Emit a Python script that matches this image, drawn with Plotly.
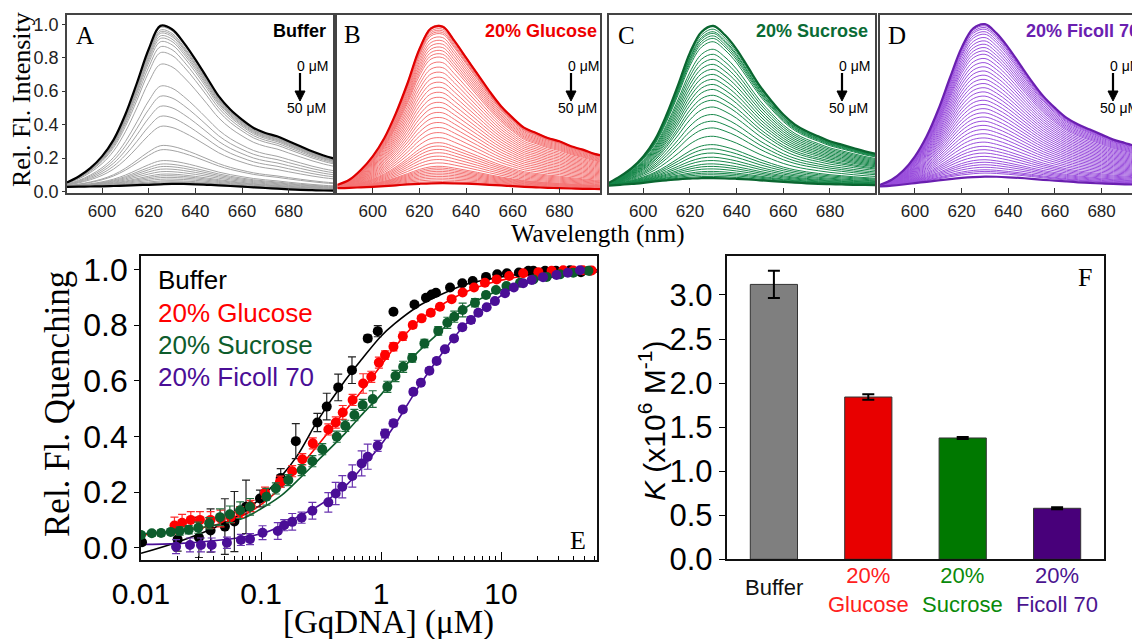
import plotly.graph_objects as go

W, H = 1140, 639
OFF = 8  # page offset of the figure in the browser
SERIF = "Liberation Serif"
SANS = "Liberation Sans"

# ---------------- Panels A-D : emission spectra ----------------
wavelength = [585, 590, 595, 600, 605, 610, 615, 620, 625, 630, 635, 640,
              645, 650, 655, 660, 665, 670, 675, 680, 685, 690, 695, 700]

buffer_top = [0.054, 0.09, 0.14, 0.21, 0.31, 0.46, 0.65, 0.85, 0.99, 0.97, 0.89, 0.79,
              0.68, 0.57, 0.49, 0.43, 0.38, 0.35, 0.33, 0.30, 0.27, 0.24, 0.215, 0.195]
buffer_bottom = [0.028, 0.029, 0.030, 0.031, 0.033, 0.035, 0.038, 0.040, 0.043, 0.045, 0.045, 0.043,
                 0.040, 0.037, 0.033, 0.029, 0.025, 0.021, 0.017, 0.013, 0.010, 0.008, 0.006, 0.005]
buffer_peaks = [0.98, 0.965, 0.955, 0.945, 0.93, 0.915, 0.895, 0.865, 0.83, 0.76, 0.63, 0.57,
                0.51, 0.45, 0.39, 0.275, 0.25, 0.185, 0.165, 0.15, 0.135, 0.12, 0.105, 0.095,
                0.085, 0.075, 0.065, 0.058, 0.052]

glucose_top = [0.04, 0.07, 0.13, 0.21, 0.32, 0.47, 0.65, 0.85, 0.975, 0.985, 0.90, 0.80,
               0.70, 0.60, 0.51, 0.44, 0.38, 0.35, 0.32, 0.30, 0.27, 0.25, 0.225, 0.21]
glucose_bottom = [0.02, 0.022, 0.025, 0.028, 0.032, 0.037, 0.042, 0.046, 0.049, 0.05, 0.049, 0.047,
                  0.044, 0.04, 0.036, 0.032, 0.028, 0.025, 0.022, 0.02, 0.018, 0.016, 0.015, 0.014]
glucose_peaks = [0.99, 0.98, 0.97, 0.96, 0.95, 0.94, 0.92, 0.90, 0.88, 0.86, 0.84, 0.82, 0.80,
                 0.77, 0.74, 0.71, 0.68, 0.65, 0.62, 0.59, 0.56, 0.53, 0.50, 0.47, 0.44, 0.41,
                 0.38, 0.35, 0.32, 0.29, 0.27, 0.25, 0.23, 0.21, 0.19, 0.17, 0.15, 0.14, 0.13,
                 0.12, 0.11, 0.10, 0.09, 0.08, 0.07, 0.06]

sucrose_top = [0.05, 0.09, 0.14, 0.21, 0.31, 0.46, 0.64, 0.83, 0.955, 0.99, 0.935, 0.85,
               0.74, 0.63, 0.54, 0.46, 0.40, 0.36, 0.33, 0.30, 0.28, 0.26, 0.24, 0.225]
sucrose_bottom = [0.035, 0.04, 0.045, 0.052, 0.06, 0.067, 0.073, 0.077, 0.08, 0.08, 0.079, 0.076,
                  0.072, 0.067, 0.062, 0.057, 0.053, 0.049, 0.046, 0.044, 0.042, 0.04, 0.039, 0.038]
sucrose_peaks = [0.985, 0.97, 0.955, 0.945, 0.93, 0.915, 0.895, 0.85, 0.82, 0.79, 0.76, 0.73,
                 0.70, 0.67, 0.64, 0.61, 0.575, 0.545, 0.505, 0.46, 0.42, 0.38, 0.33, 0.28,
                 0.255, 0.23, 0.205, 0.185, 0.165, 0.15, 0.135, 0.12, 0.11, 0.10, 0.09]

ficoll_top = [0.04, 0.07, 0.125, 0.21, 0.33, 0.49, 0.68, 0.86, 0.975, 1.0, 0.945, 0.86,
              0.76, 0.66, 0.57, 0.50, 0.44, 0.40, 0.37, 0.34, 0.31, 0.29, 0.27, 0.26]
ficoll_bottom = [0.03, 0.035, 0.042, 0.05, 0.058, 0.066, 0.074, 0.081, 0.086, 0.089, 0.088, 0.085,
                 0.081, 0.076, 0.07, 0.065, 0.06, 0.055, 0.051, 0.048, 0.045, 0.043, 0.041, 0.04]
ficoll_peaks = [0.99, 0.98, 0.97, 0.955, 0.94, 0.92, 0.90, 0.88, 0.86, 0.84, 0.82, 0.795, 0.77,
                0.745, 0.72, 0.695, 0.67, 0.645, 0.62, 0.595, 0.57, 0.545, 0.52, 0.495, 0.47,
                0.445, 0.42, 0.395, 0.37, 0.345, 0.32, 0.295, 0.27, 0.25, 0.23, 0.21, 0.19,
                0.175, 0.16, 0.145, 0.13, 0.12, 0.11]

# ---------------- Panel E : titration ----------------
buffer_conc = [0.0102, 0.0202, 0.0304, 0.038, 0.05, 0.06, 0.075, 0.098, 0.146, 0.195, 0.295,
               0.353, 0.44, 0.573, 0.775, 0.94, 1.27, 1.9, 2.37, 2.64, 2.87, 3.76, 4.76, 5.81,
               7.5, 9.3, 11.2, 14.1, 16.9, 18.6, 23.3, 28.7, 37.6, 46.4, 55]
buffer_q = [0.02, 0.03, 0.037, 0.062, 0.076, 0.094, 0.147, 0.177, 0.251, 0.383, 0.45, 0.507,
            0.576, 0.638, 0.752, 0.778, 0.848, 0.874, 0.898, 0.91, 0.916, 0.935, 0.95, 0.958,
            0.973, 0.982, 0.986, 0.989, 0.995, 0.995, 0.995, 0.995, 0.997, 0.99, 0.995]
buffer_err = [0, 0.042, 0.072, 0.078, 0.10, 0.108, 0.096, 0.03, 0.033, 0.063, 0.033, 0.048,
              0.048, 0.048, 0.012, 0.02, 0.006, 0.01, 0.005, 0.005, 0.005, 0.005, 0.004, 0.004,
              0.004, 0.004, 0.003, 0.003, 0.003, 0.003, 0.003, 0.003, 0.003, 0.003, 0.003]

glucose_conc = [0.019, 0.022, 0.026, 0.031, 0.038, 0.046, 0.056, 0.067, 0.082, 0.108, 0.144,
                0.182, 0.221, 0.27, 0.364, 0.42, 0.48, 0.58, 0.71, 0.83, 0.96, 1.08, 1.27,
                1.52, 1.84, 2.18, 2.6, 3.1, 3.88, 4.79, 5.96, 7.35, 9.2, 11.7, 15.3, 20.5,
                26.4, 33, 40, 48, 57]
glucose_q = [0.08, 0.09, 0.1, 0.1, 0.1, 0.105, 0.11, 0.128, 0.15, 0.198, 0.237, 0.275, 0.318,
             0.375, 0.425, 0.45, 0.486, 0.531, 0.59, 0.614, 0.665, 0.692, 0.722, 0.76, 0.8,
             0.824, 0.844, 0.866, 0.893, 0.917, 0.935, 0.952, 0.964, 0.976, 0.986, 0.99,
             0.995, 0.997, 0.996, 0.997, 0.996]
glucose_err = [0.03, 0.03, 0.03, 0.03, 0.03, 0.03, 0.02, 0.02, 0.02, 0.02, 0.02, 0.02, 0.02,
               0.02, 0.02, 0.02, 0.025, 0.02, 0.035, 0.02, 0.02, 0.015, 0.015, 0.015, 0.01,
               0.01, 0.01, 0.008, 0.008, 0.006, 0.006, 0.005, 0.005, 0.004, 0.004, 0.003,
               0.003, 0.003, 0.003, 0.003, 0.003]

sucrose_conc = [0.01, 0.0123, 0.0147, 0.0177, 0.021, 0.025, 0.03, 0.037, 0.0455, 0.055, 0.067,
                0.081, 0.111, 0.133, 0.169, 0.218, 0.268, 0.324, 0.428, 0.504, 0.6, 0.704,
                0.853, 1.13, 1.32, 1.53, 1.82, 2.3, 3.0, 3.57, 4.08, 4.79, 6.07, 7.5, 9.08,
                11.1, 14.4, 18.6, 24, 31, 40, 53.5]
sucrose_q = [0.046, 0.052, 0.053, 0.057, 0.06, 0.065, 0.072, 0.088, 0.11, 0.12, 0.135, 0.147,
             0.183, 0.213, 0.243, 0.279, 0.311, 0.354, 0.399, 0.438, 0.477, 0.513, 0.534,
             0.578, 0.617, 0.65, 0.682, 0.734, 0.779, 0.808, 0.83, 0.854, 0.88, 0.908, 0.926,
             0.94, 0.952, 0.964, 0.973, 0.982, 0.988, 0.995]
sucrose_err = [0.01, 0.01, 0.01, 0.01, 0.015, 0.015, 0.02, 0.02, 0.03, 0.03, 0.03, 0.03, 0.03,
               0.02, 0.02, 0.02, 0.02, 0.02, 0.02, 0.02, 0.02, 0.02, 0.03, 0.02, 0.02, 0.02,
               0.015, 0.015, 0.015, 0.02, 0.02, 0.025, 0.015, 0.01, 0.008, 0.006, 0.005,
               0.005, 0.004, 0.004, 0.003, 0.003]

ficoll_conc = [0.0196, 0.0256, 0.0316, 0.0388, 0.052, 0.068, 0.081, 0.103, 0.138, 0.156, 0.182,
               0.218, 0.268, 0.364, 0.419, 0.476, 0.577, 0.69, 0.775, 0.938, 1.08, 1.27, 1.52,
               1.86, 2.15, 2.53, 2.91, 3.41, 4.06, 4.76, 5.62, 6.47, 7.6, 8.9, 10.8, 12.8,
               15.3, 18, 22.4, 29, 36, 45.5]
ficoll_q = [0.004, 0.01, 0.01, 0.01, 0.018, 0.028, 0.031, 0.054, 0.06, 0.081, 0.093, 0.108,
            0.133, 0.163, 0.195, 0.219, 0.258, 0.303, 0.327, 0.366, 0.41, 0.447, 0.497, 0.56,
            0.593, 0.636, 0.671, 0.713, 0.752, 0.792, 0.818, 0.844, 0.864, 0.886, 0.914,
            0.935, 0.95, 0.962, 0.972, 0.98, 0.988, 0.997]
ficoll_err = [0.025, 0.025, 0.025, 0.025, 0.02, 0.02, 0.02, 0.025, 0.03, 0.02, 0.03, 0.02,
              0.03, 0.035, 0.04, 0.04, 0.04, 0.045, 0.045, 0.02, 0.015, 0.012, 0.01, 0.01,
              0.01, 0.01, 0.01, 0.01, 0.01, 0.01, 0.012, 0.008, 0.006, 0.006, 0.005, 0.005,
              0.004, 0.004, 0.004, 0.003, 0.003, 0.003]

fit_conc = [0.01, 0.02, 0.04, 0.07, 0.1, 0.15, 0.2, 0.3, 0.5, 0.7, 1, 1.3, 2, 3, 5, 8, 15, 30, 63]
buffer_fit = [-0.02, 0.02, 0.07, 0.125, 0.18, 0.26, 0.33, 0.46, 0.6, 0.68, 0.76, 0.805, 0.865,
              0.905, 0.945, 0.965, 0.983, 0.993, 0.998]
glucose_fit = [0.045, 0.06, 0.08, 0.115, 0.155, 0.22, 0.28, 0.37, 0.49, 0.567, 0.655, 0.72,
               0.81, 0.865, 0.918, 0.95, 0.975, 0.988, 0.995]
sucrose_fit = [0.05, 0.06, 0.08, 0.105, 0.14, 0.19, 0.24, 0.315, 0.41, 0.48, 0.55, 0.61, 0.70,
               0.77, 0.86, 0.91, 0.95, 0.975, 0.99]
ficoll_fit = [0.012, 0.015, 0.025, 0.038, 0.05, 0.08, 0.11, 0.15, 0.22, 0.29, 0.37, 0.44, 0.57,
              0.68, 0.80, 0.875, 0.95, 0.98, 0.993]

# ---------------- Panel F : binding constants ----------------
conditions = ["Buffer", "20%<br>Glucose", "20%<br>Sucrose", "20%<br>Ficoll 70"]
K_values = [3.12, 1.842, 1.377, 0.579]
K_errors = [0.155, 0.03, 0.012, 0.012]

# ---------------- styling ----------------
bar_colors = ["#7f7f7f", "#e80000", "#007800", "#48007a"]
label_colors = ["#111111", "#ff2020", "#0a8a0a", "#4b1490"]


def px(x):
    return (x - OFF) / W


def py(y):
    return 1 - (y - OFF) / H


fig = go.Figure()

spectra = [
    (buffer_top, buffer_bottom, buffer_peaks, "#a3a3a3", "#000000"),
    (glucose_top, glucose_bottom, glucose_peaks, "#f47676", "#e00000"),
    (sucrose_top, sucrose_bottom, sucrose_peaks, "#17874a", "#0a6630"),
    (ficoll_top, ficoll_bottom, ficoll_peaks, "#9a4fdc", "#6a1fb0"),
]

for i, (top, bottom, peaks, thin, thick) in enumerate(spectra, start=1):
    xa = "x" if i == 1 else f"x{i}"
    ya = "y" if i == 1 else f"y{i}"
    tmax = max(top)
    bmax = max(bottom)
    for p in peaks:
        f = (p - bmax) / (tmax - bmax)
        yy = [b + f * (t - b) for t, b in zip(top, bottom)]
        fig.add_trace(go.Scatter(x=wavelength, y=yy, mode="lines", xaxis=xa, yaxis=ya,
                                 line=dict(color=thin, width=1, shape="spline"),
                                 hoverinfo="skip"))
    for yy in (bottom, top):
        fig.add_trace(go.Scatter(x=wavelength, y=yy, mode="lines", xaxis=xa, yaxis=ya,
                                 line=dict(color=thick, width=2.2, shape="spline"),
                                 hoverinfo="skip"))

# Panel E
e_series = [
    (buffer_conc, buffer_q, buffer_err, buffer_fit, "#000000", "#222222"),
    (glucose_conc, glucose_q, glucose_err, glucose_fit, "#ff0000", "#ff2a2a"),
    (sucrose_conc, sucrose_q, sucrose_err, sucrose_fit, "#0d5c2c", "#1f6e3c"),
    (ficoll_conc, ficoll_q, ficoll_err, ficoll_fit, "#4a0e96", "#6a34b0"),
]
for conc, q, err, fit, col, ecol in e_series:
    fig.add_trace(go.Scatter(x=fit_conc, y=fit, mode="lines", xaxis="x5", yaxis="y5",
                             line=dict(color=col, width=1.6, shape="spline")))
for conc, q, err, fit, col, ecol in e_series:
    fig.add_trace(go.Scatter(x=conc, y=q, mode="markers", xaxis="x5", yaxis="y5",
                             marker=dict(color=col, size=10),
                             error_y=dict(type="data", array=err, visible=True,
                                          thickness=1.2, width=4, color=ecol)))

# Panel F
fig.add_trace(go.Bar(x=[0, 1, 2, 3], y=K_values, width=0.5, xaxis="x6", yaxis="y6",
                     marker=dict(color=bar_colors, line=dict(color="#333333", width=1)),
                     error_y=dict(type="data", array=K_errors, visible=True,
                                  thickness=2, width=6, color="#000000")))

# ---------------- axes ----------------
top_y = [py(192.5), py(15)]
top_x_domains = [(67, 333), (337, 600), (609, 875), (880, 1140 + OFF)]
top_x_ranges = [[585, 699], [584.7, 697.4], [585.3, 699.3], [585, 699.9]]
layout_axes = {}
for i in range(1, 5):
    xk = "xaxis" if i == 1 else f"xaxis{i}"
    yk = "yaxis" if i == 1 else f"yaxis{i}"
    ya = "y" if i == 1 else f"y{i}"
    xa = "x" if i == 1 else f"x{i}"
    d = top_x_domains[i - 1]
    layout_axes[xk] = dict(domain=[px(d[0]), min(1.0, px(d[1]))], range=top_x_ranges[i - 1],
                           anchor=ya,
                           tickvals=[600, 620, 640, 660, 680], ticks="inside", ticklen=5,
                           tickcolor="#333", showline=True, linecolor="#444", linewidth=1.5,
                           mirror=True, showgrid=False, zeroline=False, ticklabelstandoff=2,
                           automargin=False,
                           tickfont=dict(family=SANS, size=17, color="#222"))
    layout_axes[yk] = dict(domain=top_y, range=[-0.006, 1.055], anchor=xa,
                           tickvals=[0, 0.2, 0.4, 0.6, 0.8, 1.0], tickformat=".1f",
                           ticks="outside" if i == 1 else "", ticklen=3, tickcolor="#333",
                           showticklabels=(i == 1), showline=True, linecolor="#444",
                           linewidth=1.5, mirror=(i != 4), showgrid=False, zeroline=False,
                           automargin=False,
                           tickfont=dict(family=SANS, size=18, color="#222"))

minor_vals = [k * 10 ** e for e in (-2, -1, 0, 1) for k in range(2, 10)]
layout_axes["xaxis5"] = dict(domain=[px(141), px(597)], type="log", range=[-2, 1.8], anchor="y5",
                             tickvals=[0.01, 0.1, 1, 10], ticktext=["0.01", "0.1", "1", "10"],
                             ticks="inside", ticklen=8, tickcolor="#000",
                             minor=dict(tickvals=minor_vals, ticks="inside", ticklen=4,
                                        tickcolor="#000"),
                             showline=True, linecolor="#111", linewidth=1.8, mirror=True,
                             showgrid=False, zeroline=False, ticklabelstandoff=6,
                             automargin=False,
                             tickfont=dict(family=SANS, size=30, color="#000"))
layout_axes["yaxis5"] = dict(domain=[py(560), py(256)], range=[-0.044, 1.048], anchor="x5",
                             tickvals=[0, 0.2, 0.4, 0.6, 0.8, 1.0], tickformat=".1f",
                             ticks="outside", ticklen=5, tickcolor="#000",
                             showline=True, linecolor="#111", linewidth=1.8, mirror=True,
                             showgrid=False, zeroline=False, automargin=False,
                             tickfont=dict(family=SANS, size=32, color="#000"))
layout_axes["xaxis6"] = dict(domain=[px(726.7), px(1104.3)], range=[-0.5, 3.5], anchor="y6",
                             showticklabels=False, ticks="", showline=True, linecolor="#111",
                             linewidth=1.8, mirror=True, showgrid=False, zeroline=False,
                             automargin=False)
layout_axes["yaxis6"] = dict(domain=[py(559.3), py(255.7)], range=[0, 3.446], anchor="x6",
                             tickvals=[0, 0.5, 1, 1.5, 2, 2.5, 3], tickformat=".1f",
                             ticks="outside", ticklen=6, tickcolor="#000",
                             showline=True, linecolor="#111", linewidth=1.8, mirror=True,
                             showgrid=False, zeroline=False, automargin=False,
                             tickfont=dict(family=SANS, size=31, color="#000"))

# ---------------- annotations ----------------
ann = []
shapes = []


def add_text(text, x, y, size, color="#000", family=SANS, xanchor="center",
             yanchor="middle", angle=0):
    ann.append(dict(text=text, x=px(x), y=py(y), xref="paper", yref="paper",
                    showarrow=False, xanchor=xanchor, yanchor=yanchor, textangle=angle,
                    font=dict(family=family, size=size, color=color)))


letters = [("A", 85, 36), ("B", 352, 35), ("C", 626, 36), ("D", 897, 36)]
for t, x, y in letters:
    add_text(t, x, y, 25, family=SERIF)

titles = [("Buffer", 328, "#000000"), ("20% Glucose", 599, "#ee0000"),
          ("20% Sucrose", 870, "#0a6b35"), ("20% Ficoll 70", 1140, "#6a20b0")]
for t, x, c in titles:
    if t == "20% Ficoll 70":
        add_text(f"<b>{t}</b>", 1024, 31, 18, color=c, xanchor="left")
    else:
        add_text(f"<b>{t}</b>", x, 31, 18, color=c, xanchor="right")

arrow_x = [300, 571, 842, 1113]
for ax_ in arrow_x:
    add_text("0 μM", ax_ - 5, 66, 14, xanchor="left")
    add_text("50 μM", ax_ - 15, 108, 14, xanchor="left")
    shapes.append(dict(type="line", xref="paper", yref="paper",
                       x0=px(ax_), x1=px(ax_), y0=py(73), y1=py(93),
                       line=dict(color="#000", width=2.2)))
    shapes.append(dict(type="path", xref="paper", yref="paper",
                       path=(f"M {px(ax_ - 5)} {py(91)} L {px(ax_ + 5)} {py(91)} "
                             f"L {px(ax_)} {py(101)} Z"),
                       fillcolor="#000", line=dict(color="#000", width=1)))

add_text("Rel. Fl. Intensity", 22, 100, 26, family=SERIF, angle=-90)
add_text("Wavelength (nm)", 598, 234, 25, family=SERIF)

legend_e = [("Buffer", 280, "#000000"), ("20% Glucose", 313, "#ff0000"),
            ("20% Sucrose", 345, "#0d5c2c"), ("20% Ficoll 70", 377, "#4a0e96")]
for t, y, c in legend_e:
    add_text(t, 156, y, 26, color=c, xanchor="left")
add_text("E", 578, 540, 26, family=SERIF)
add_text("Rel. Fl. Quenching", 58, 404, 35, family=SERIF, angle=-90)
add_text("[GqDNA] (μM)", 388, 622, 33, family=SERIF)

add_text("F", 1085, 277, 26, family=SERIF)
add_text("<i>K</i> (x10<sup>6</sup> M<sup>-1</sup>)", 652, 421, 30, angle=-90)
cat_x = [774, 868.3, 962.5, 1056.7]
for t, x, c in zip(conditions, cat_x, label_colors):
    add_text(t, x, 587 if "<br>" not in t else 590, 22, color=c)

fig.update_layout(width=W, height=H, margin=dict(l=0, r=0, t=0, b=0),
                  paper_bgcolor="white", plot_bgcolor="white", showlegend=False,
                  annotations=ann, shapes=shapes, **layout_axes)

fig.write_html("out.html")
